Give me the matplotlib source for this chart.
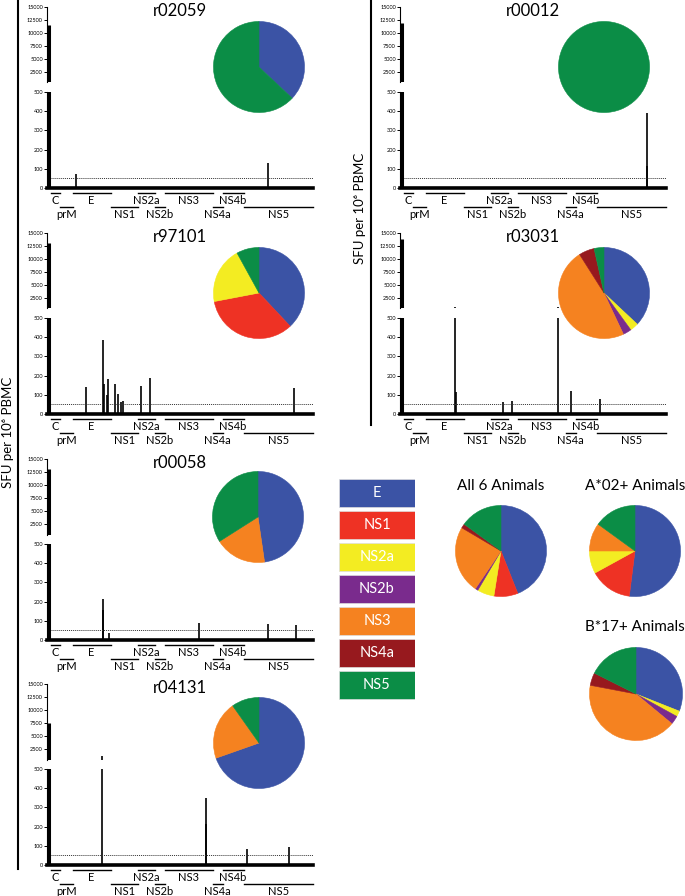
import matplotlib
matplotlib.use("Agg")
import matplotlib.pyplot as plt
from matplotlib.lines import Line2D
from matplotlib.transforms import blended_transform_factory

plt.rcParams['font.family'] = ['Lato', 'DejaVu Sans']

W, H = 685, 896

# polyprotein map (aa positions)
gene_names = ['C', 'prM', 'E', 'NS1', 'NS2a', 'NS2b', 'NS3', 'NS4a', 'NS4b', 'NS5']
gene_start = [1, 115, 281, 776, 1128, 1346, 1476, 2095, 2222, 2495]
gene_end = [114, 280, 775, 1127, 1345, 1475, 2094, 2221, 2494, 3391]
gene_row = [0, 1, 0, 1, 0, 1, 0, 1, 0, 1]

# pie categories
pie_labels = ['E', 'NS1', 'NS2a', 'NS2b', 'NS3', 'NS4a', 'NS5']
pie_colors = ['#3b53a5', '#ee3224', '#f3ec22', '#7a2b8d', '#f58220', '#97191e', '#0b8d46']

animals = ['r02059', 'r00012', 'r97101', 'r03031', 'r00058', 'r04131']
control_sfu = [11500, 12000, 13000, 13800, 13000, 7500]

r02059_pos = [322, 2805]
r02059_sfu = [75, 130]
r00012_pos = [3140, 3146]
r00012_sfu = [115, 390]
r97101_pos = [460, 675, 690, 722, 744, 834, 868, 911, 937, 1165, 1285, 3142]
r97101_sfu = [143, 388, 155, 98, 184, 155, 103, 60, 67, 145, 186, 136]
r03031_pos = [667, 675, 1280, 1401, 1998, 2162, 2536]
r03031_sfu = [720, 112, 61, 69, 720, 118, 78]
r00058_pos = [675, 680, 752, 1912, 2815, 3176]
r00058_sfu = [215, 155, 36, 86, 81, 78]
r04131_pos = [666, 2007, 2010, 2540, 3086]
r04131_sfu = [1200, 351, 215, 82, 92]

# pie fractions (%) in order E, NS1, NS2a, NS2b, NS3, NS4a, NS5
r02059_pie = [37, 0, 0, 0, 0, 0, 63]
r00012_pie = [0, 0, 0, 0, 0, 0, 100]
r97101_pie = [38, 34, 20, 0, 0, 0, 8]
r03031_pie = [37, 0, 3, 3, 48, 5.5, 3.5]
r00058_pie = [47.7, 0, 0, 0, 18.3, 0, 34]
r04131_pie = [69.6, 0, 0, 0, 20.6, 0, 9.8]
all6_pie = [44, 8.5, 6, 1, 24, 1.5, 15]
a02_pie = [52, 15, 8, 0, 10, 0, 15]
b17_pie = [31, 0, 2, 3, 42, 4.4, 17.6]

threshold = 50
upper_ticks = [2500, 5000, 7500, 10000, 12500, 15000]
lower_ticks = [0, 100, 200, 300, 400, 500]


def px_rect(x, y, w, h):
    return [x / W, 1 - (y + h) / H, w / W, h / H]


def draw_pie(cx, cy, r, frac):
    ax = fig.add_axes(px_rect(cx - r, cy - r, 2 * r, 2 * r))
    wedges, _ = ax.pie(frac, colors=pie_colors, startangle=90, counterclock=False,
                       wedgeprops=dict(linewidth=0))
    # hide the thin antialiasing seams between wedges
    for w in wedges:
        w.set_edgecolor(w.get_facecolor())
        w.set_linewidth(0.4 if w.theta2 - w.theta1 > 0 else 0)
    ax.set_xlim(-1.01, 1.01)
    ax.set_ylim(-1.01, 1.01)
    ax.set_aspect('equal')
    ax.axis('off')


def draw_panel(name, xs, y0, pos, sfu, control, frac, pie_c):
    # upper (broken) axis
    ax_up = fig.add_axes(px_rect(xs, y0, 266, 75.5))
    ax_lo = fig.add_axes(px_rect(xs, y0 + 85, 266, 96))
    for ax in (ax_up, ax_lo):
        ax.set_xlim(-50, 3391)
        ax.vlines(pos, 0, sfu, color='black', lw=1.2)
        ax.vlines([-22], 0, [control], color='black', lw=2.2)
        ax.spines['top'].set_visible(False)
        ax.spines['right'].set_visible(False)
        ax.spines['left'].set_linewidth(0.8)
        ax.set_xticks([])
        ax.tick_params(axis='y', labelsize=4, length=2.5, width=0.7, pad=0.5)
        ax.patch.set_alpha(0)
    ax_up.set_ylim(500, 15000)
    ax_up.set_yticks(upper_ticks)
    ax_up.spines['bottom'].set_visible(False)
    ax_lo.set_ylim(0, 500)
    ax_lo.set_yticks(lower_ticks)
    ax_lo.spines['bottom'].set_linewidth(2.6)
    ax_lo.hlines(threshold, 0, 3391, linestyles=(0, (1, 1)), lw=0.7, color='#333333')

    # protein map under the axis
    tr = blended_transform_factory(ax_lo.transData, ax_lo.transAxes)
    for g, s, e, row in zip(gene_names, gene_start, gene_end, gene_row):
        yl = -5 / 96 - row * 14 / 96
        yt = yl - 7.5 / 96
        ax_lo.add_line(Line2D([s, e], [yl, yl], transform=tr, color='black',
                              lw=1.0, clip_on=False))
        ax_lo.text((s + e) / 2, yt, g, transform=tr, ha='center', va='center',
                   fontsize=8, clip_on=False)

    fig.text((xs + 133) / W, 1 - (y0 + 4) / H, name, ha='center', va='center',
             fontsize=12)
    draw_pie(pie_c[0], pie_c[1], 46, frac)


fig = plt.figure(figsize=(W / 100, H / 100), dpi=100)

panel_xy = [(47, 7), (400, 7), (47, 233), (400, 233), (47, 459), (47, 684)]
pie_centers = [(259, 67), (604, 67), (259, 293), (604, 293), (258, 517), (259, 743)]
positions = [r02059_pos, r00012_pos, r97101_pos, r03031_pos, r00058_pos, r04131_pos]
responses = [r02059_sfu, r00012_sfu, r97101_sfu, r03031_sfu, r00058_sfu, r04131_sfu]
pies = [r02059_pie, r00012_pie, r97101_pie, r03031_pie, r00058_pie, r04131_pie]

for i, name in enumerate(animals):
    draw_panel(name, panel_xy[i][0], panel_xy[i][1], positions[i], responses[i],
               control_sfu[i], pies[i], pie_centers[i])

# y labels and brackets
ylab = 'SFU per 10⁶ PBMC'
fig.text(8 / W, 1 - 432 / H, ylab, rotation=90, ha='center', va='center', fontsize=9.5)
fig.text(360 / W, 1 - 208 / H, ylab, rotation=90, ha='center', va='center', fontsize=9.5)
fig.add_artist(Line2D([18 / W, 18 / W], [1, 1 - 869 / H], color='black', lw=1.5))
fig.add_artist(Line2D([371 / W, 371 / W], [1, 1 - 425 / H], color='black', lw=1.5))

# colour key
ax_key = fig.add_axes(px_rect(339, 477, 76, 224))
ax_key.barh(range(len(pie_labels)), [1] * len(pie_labels), height=0.875,
            color=pie_colors, edgecolor='#dddddd', linewidth=0.5)
for i, lab in enumerate(pie_labels):
    ax_key.text(0.5, i, lab, ha='center', va='center', color='white', fontsize=10.5)
ax_key.set_xlim(0, 1)
ax_key.set_ylim(len(pie_labels) - 0.5, -0.5)
ax_key.axis('off')

# summary pies
fig.text(501 / W, 1 - 486 / H, 'All 6 Animals', ha='center', va='center', fontsize=11)
fig.text(635 / W, 1 - 486 / H, 'A*02+ Animals', ha='center', va='center', fontsize=11)
fig.text(635 / W, 1 - 627 / H, 'B*17+ Animals', ha='center', va='center', fontsize=11)
draw_pie(501, 551, 46, all6_pie)
draw_pie(635, 551, 46, a02_pie)
draw_pie(636, 694, 47, b17_pie)

fig.savefig('out.png', dpi=100)
